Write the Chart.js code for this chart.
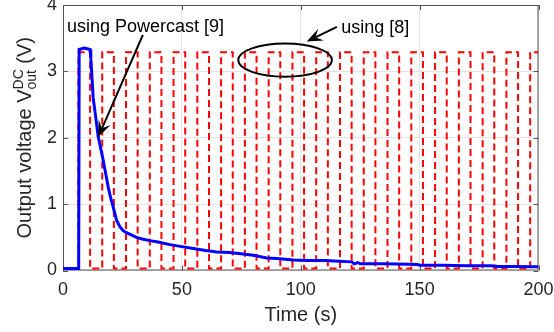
<!DOCTYPE html>
<html>
<head>
<meta charset="utf-8">
<script src="https://cdn.jsdelivr.net/npm/chart.js@4.4.1/dist/chart.umd.min.js"></script>
<style>
  html, body { margin: 0; padding: 0; background: #fff; }
  #wrap { width: 554px; height: 332px; }
</style>
</head>
<body>
<div id="wrap"><canvas id="chart-result"></canvas></div>
<script>
// --- data ---
const xTicks = [0, 50, 100, 150, 200];
const yTicks = [0, 1, 2, 3, 4];

// Powercast [9]: single charge pulse then slow decay
const blueTime = [0, 6.6, 6.8, 9, 11.4, 11.7, 12.7, 13.8, 14.8, 15.8, 16.9, 18, 19, 20, 21.1, 22.5, 23.9, 25.3, 26.7, 28.5, 30.9, 33.7, 36.5, 40, 45, 50, 54.8, 60, 64.6, 70, 75.8, 80, 85.7, 90, 96.9, 102.5, 110, 116, 121.5, 122.5, 124, 125, 126.5, 135, 145, 149, 150, 160, 170, 180, 183, 190, 200];
const blueVolt = [0.03, 0.03, 3.33, 3.35, 3.33, 3.2, 2.6, 2.3, 2.02, 1.85, 1.66, 1.45, 1.26, 1.1, 0.96, 0.76, 0.66, 0.6, 0.57, 0.54, 0.5, 0.47, 0.45, 0.43, 0.39, 0.36, 0.33, 0.3, 0.28, 0.27, 0.25, 0.23, 0.19, 0.18, 0.16, 0.15, 0.15, 0.14, 0.13, 0.1, 0.12, 0.1, 0.1, 0.1, 0.095, 0.09, 0.08, 0.08, 0.07, 0.07, 0.06, 0.06, 0.055];

// [8]: periodic pulses, rising / falling edge times (s)
const redRise = [6.5, 16.5, 26.5, 36.5, 46.5, 56.5, 66.5, 76.5, 86.5, 96.5, 106.5, 116.5, 126.5, 136.5, 146.5, 156.5, 166.5, 176.5, 186.5, 196.5];
const redFall = [11.4, 21.4, 31.4, 41.4, 51.4, 61.4, 71.4, 81.4, 91.4, 101.4, 111.4, 121.4, 131.4, 141.4, 151.4, 161.4, 171.4, 181.4, 191.4];
const redHigh = 3.29;
const redLow = 0.03;

const bluePts = blueTime.map((t, i) => ({ x: t, y: blueVolt[i] }));
const redPts = [{ x: 0, y: redLow }];
redRise.forEach((r, i) => {
    redPts.push({ x: r, y: redLow }, { x: r, y: redHigh });
    if (i < redFall.length) {
        redPts.push({ x: redFall[i], y: redHigh }, { x: redFall[i], y: redLow });
    } else {
        redPts.push({ x: 200, y: redHigh });
    }
});

const FONT = "'Liberation Sans', Arial, Helvetica, sans-serif";
const TXT = '#262626';

function arrow(ctx, x0, y0, x1, y1) {
    const dx = x1 - x0, dy = y1 - y0;
    const len = Math.hypot(dx, dy);
    const ux = dx / len, uy = dy / len;
    const nx = -uy, ny = ux;
    const L = 16, W = 6.5;
    ctx.beginPath();
    ctx.moveTo(x0, y0);
    ctx.lineTo(x1 - ux * L * 0.6, y1 - uy * L * 0.6);
    ctx.stroke();
    ctx.beginPath();
    ctx.moveTo(x1, y1);
    ctx.lineTo(x1 - ux * L + nx * W, y1 - uy * L + ny * W);
    ctx.lineTo(x1 - ux * L * 0.6, y1 - uy * L * 0.6);
    ctx.lineTo(x1 - ux * L - nx * W, y1 - uy * L - ny * W);
    ctx.closePath();
    ctx.fill();
}

const matlabLook = {
    id: 'matlabLook',
    beforeDatasetsDraw(chart) {
        const { ctx, chartArea: a, scales: { x, y } } = chart;
        ctx.save();
        ctx.strokeStyle = '#555';
        ctx.lineWidth = 1;
        ctx.strokeRect(a.left + 0.5, a.top + 0.5, a.right - a.left - 1, a.bottom - a.top - 1);
        ctx.beginPath();
        xTicks.forEach(t => {
            const px = Math.round(x.getPixelForValue(t)) + 0.5;
            ctx.moveTo(px, a.bottom); ctx.lineTo(px, a.bottom - 5);
            ctx.moveTo(px, a.top); ctx.lineTo(px, a.top + 5);
        });
        yTicks.forEach(v => {
            const py = Math.round(y.getPixelForValue(v)) + 0.5;
            ctx.moveTo(a.left, py); ctx.lineTo(a.left + 5, py);
            ctx.moveTo(a.right, py); ctx.lineTo(a.right - 5, py);
        });
        ctx.stroke();
        ctx.restore();
    },
    afterDatasetsDraw(chart) {
        const { ctx, chartArea: a, scales: { x, y } } = chart;
        ctx.save();
        ctx.fillStyle = '#000';
        ctx.strokeStyle = '#000';
        ctx.lineWidth = 2;

        // annotation: Powercast
        ctx.font = '18px ' + FONT;
        ctx.textAlign = 'left';
        ctx.textBaseline = 'alphabetic';
        ctx.fillText('using Powercast [9]', x.getPixelForValue(1.7), y.getPixelForValue(3.6));
        arrow(ctx, x.getPixelForValue(33.6), y.getPixelForValue(3.55), x.getPixelForValue(14.8), y.getPixelForValue(2.01));

        // annotation: [8]
        ctx.fillText('using [8]', x.getPixelForValue(117), y.getPixelForValue(3.58));
        arrow(ctx, x.getPixelForValue(115.2), y.getPixelForValue(3.67), x.getPixelForValue(102.5), y.getPixelForValue(3.45));
        const cx = x.getPixelForValue(93.4), cy = y.getPixelForValue(3.17);
        const rx = x.getPixelForValue(93.4 + 19.7) - cx, ry = cy - y.getPixelForValue(3.17 + 0.25);
        ctx.beginPath();
        ctx.ellipse(cx, cy, rx, ry, 0, 0, Math.PI * 2);
        ctx.stroke();

        // x title
        ctx.fillStyle = TXT;
        ctx.font = '20px ' + FONT;
        ctx.textAlign = 'center';
        ctx.fillText('Time (s)', (a.left + a.right) / 2, 321);

        // y title with super/subscript
        const p1 = 'Output voltage ', p2 = 'V', sup = 'DC', sub = 'out', p3 = ' (V)';
        const big = '20px ' + FONT, small = '14px ' + FONT;
        ctx.font = big;
        const w1 = ctx.measureText(p1).width, w2 = ctx.measureText(p2).width, w3 = ctx.measureText(p3).width;
        ctx.font = small;
        const ws = Math.max(ctx.measureText(sup).width, ctx.measureText(sub).width);
        const total = w1 + w2 + ws + w3;
        ctx.translate(31, (a.top + a.bottom) / 2);
        ctx.rotate(-Math.PI / 2);
        ctx.textAlign = 'left';
        let px = -total / 2;
        ctx.font = big;
        ctx.fillText(p1, px, 0); px += w1;
        ctx.fillText(p2, px, 0); px += w2;
        ctx.font = small;
        ctx.fillText(sup, px, -8);
        ctx.fillText(sub, px, 5);
        px += ws;
        ctx.font = big;
        ctx.fillText(p3, px, 0);
        ctx.restore();
    }
};

const ctx = document.getElementById('chart-result');
new Chart(ctx, {
    type: 'line',
    data: {
        datasets: [
            {
                label: 'using Powercast [9]',
                data: bluePts,
                borderColor: '#0000ff',
                borderWidth: 3,
                pointRadius: 0,
                tension: 0,
                order: 0
            },
            {
                label: 'using [8]',
                data: redPts,
                borderColor: '#ff0000',
                borderWidth: 2,
                borderDash: [7, 4],
                pointRadius: 0,
                tension: 0,
                order: 1
            }
        ]
    },
    options: {
        responsive: true,
        maintainAspectRatio: false,
        animation: false,
        layout: { padding: { left: 0, right: 15.5, top: 5, bottom: 0 } },
        scales: {
            x: {
                type: 'linear',
                min: 0,
                max: 200,
                afterBuildTicks: s => { s.ticks = xTicks.map(v => ({ value: v })); },
                afterFit: s => { s.height = 61.5; s.paddingLeft = 0; s.paddingRight = 0; },
                border: { display: false },
                grid: { color: '#e3e3e3', drawTicks: false },
                ticks: {
                    padding: 9,
                    color: TXT,
                    font: { size: 18, family: FONT }
                }
            },
            y: {
                min: 0,
                max: 4,
                afterBuildTicks: s => { s.ticks = yTicks.map(v => ({ value: v })); },
                afterFit: s => { s.width = 63; s.paddingTop = 0; s.paddingBottom = 0; },
                border: { display: false },
                grid: { color: '#e3e3e3', drawTicks: false },
                ticks: {
                    padding: 6,
                    color: TXT,
                    font: { size: 18, family: FONT }
                }
            }
        },
        plugins: {
            legend: { display: false },
            tooltip: { enabled: false }
        }
    },
    plugins: [matlabLook]
});
</script>
</body>
</html>
